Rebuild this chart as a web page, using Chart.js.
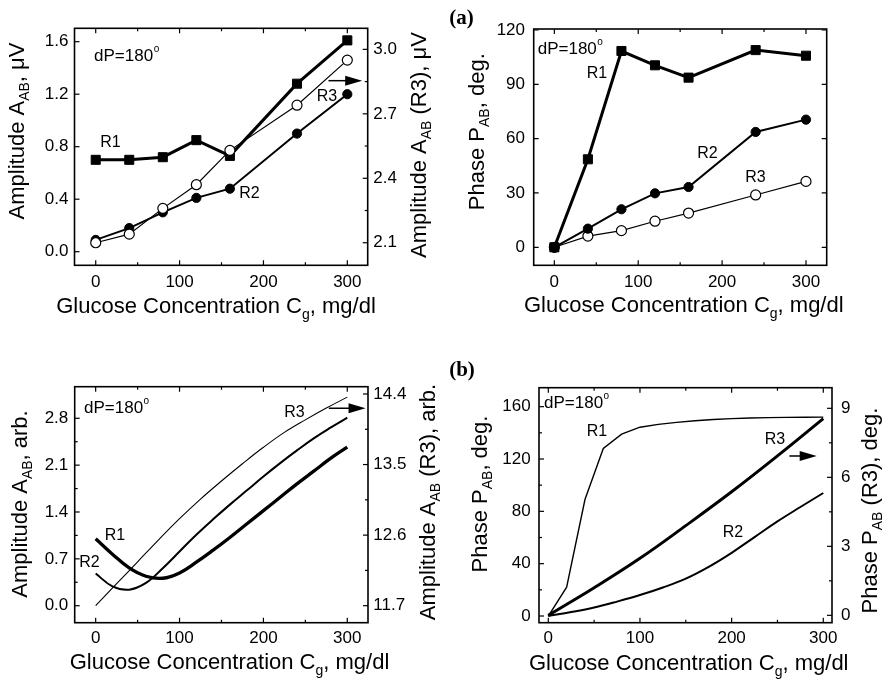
<!DOCTYPE html>
<html><head><meta charset="utf-8">
<script src="https://cdn.jsdelivr.net/npm/chart.js@4"></script>
<style>
body{margin:0;background:#fff;width:891px;height:684px;position:relative;overflow:hidden}
canvas{position:absolute}
</style></head>
<body>
<canvas id="c1" width="445" height="342" style="left:0;top:0"></canvas>
<canvas id="c2" width="446" height="342" style="left:445px;top:0"></canvas>
<canvas id="c3" width="445" height="342" style="left:0;top:342px"></canvas>
<canvas id="c4" width="446" height="342" style="left:445px;top:342px"></canvas>
<script>
// ---------- data: panel (a) ----------
const xA = [0, 40, 80, 120, 160, 240, 300];
const ampR1 = [0.70, 0.70, 0.72, 0.85, 0.73, 1.28, 1.61];
const ampR2 = [0.09, 0.18, 0.30, 0.41, 0.48, 0.90, 1.20];
const ampR3 = [2.10, 2.14, 2.26, 2.37, 2.53, 2.74, 2.95];   // right axis
const phR1 = [0, 48.6, 108.4, 100.5, 93.7, 108.9, 105.8];
const phR2 = [0, 10.3, 21.0, 29.8, 33.3, 63.7, 70.5];
const phR3 = [0, 6.2, 9.2, 14.4, 18.9, 28.9, 36.4];

// ---------- data: panel (b) ----------
const xB1 = [0, 20, 40, 60, 80, 100, 120, 140, 160, 180, 200, 220, 240, 260, 280, 300];
const ampbR1 = [1.00, 0.77, 0.565, 0.44, 0.41, 0.49, 0.65, 0.83, 1.02, 1.22, 1.42, 1.62, 1.82, 2.01, 2.20, 2.37];
const ampbR2 = [0.48, 0.29, 0.24, 0.34, 0.56, 0.81, 1.06, 1.29, 1.51, 1.72, 1.93, 2.13, 2.32, 2.50, 2.66, 2.81];
const xB2 = [0, 25, 50, 75, 100, 125, 150, 175, 200, 225, 250, 275, 300];
const ampbR3 = [11.70, 11.98, 12.26, 12.54, 12.81, 13.06, 13.29, 13.51, 13.72, 13.91, 14.07, 14.22, 14.36]; // right axis

const xP1 = [0, 20, 40, 60, 80, 100, 120, 140, 160, 180, 200, 220, 240, 260, 280, 300];
const phbR1 = [0, 22, 89, 128, 139, 144.3, 146.5, 148, 149.2, 150.2, 150.9, 151.3, 151.6, 151.8, 151.9, 152];
const xP2 = [0, 25, 50, 75, 100, 125, 150, 175, 200, 225, 250, 275, 300];
const phbR2 = [0, 3, 6.5, 11, 16, 21.8, 28.6, 37.6, 48.3, 60.3, 72.3, 83.3, 94];
const xP3 = [0, 50, 100, 150, 200, 250, 300];
const phbR3 = [0, 1.2, 2.48, 3.9, 5.37, 6.93, 8.55]; // right axis

// ---------- tick labels ----------
const xTicks = [0, 100, 200, 300];
const xMinor = [50, 150, 250];
const ampTicksL = [0, 0.4, 0.8, 1.2, 1.6];
const ampTicksR = [2.1, 2.4, 2.7, 3.0];
const phTicks = [0, 30, 60, 90, 120];
const ampbTicksL = [0, 0.7, 1.4, 2.1, 2.8];
const ampbTicksR = [11.7, 12.6, 13.5, 14.4];
const phbTicksL = [0, 40, 80, 120, 160];
const phbTicksR = [0, 3, 6, 9];

const FONT = '"Liberation Sans", Arial, Helvetica, sans-serif';
const pts = (xs, ys) => xs.map((x, i) => ({x: x, y: ys[i]}));
const mids = arr => arr.slice(0, -1).map((v, i) => (v + arr[i + 1]) / 2);

function axisCfg(axis, position, a) {
  return {
    type: 'linear', position: position, min: a.min, max: a.max, bounds: 'data',
    afterBuildTicks: s => { s.ticks = a.ticks.map(v => ({value: v})); },
    afterFit: s => { if (axis === 'x') s.height = a.size; else s.width = a.size; },
    grid: {display: false, drawTicks: false},
    border: {display: false},
    ticks: {autoSkip: false, maxRotation: 0, minRotation: 0, padding: a.pad, color: '#000',
      font: {family: FONT, size: 17}, callback: v => a.fmt ? a.fmt(v) : String(v)}
  };
}

function rich(c, parts, x, y, rot) {
  c.save(); c.translate(x, y); c.rotate(rot || 0);
  c.textBaseline = 'alphabetic'; c.textAlign = 'left'; c.fillStyle = '#000';
  let w = 0;
  const fnt = p => (p.b ? 'bold ' : '') + (p.s || 22) + 'px ' + (p.f || FONT);
  const ms = parts.map(p => { c.font = fnt(p); const m = c.measureText(p.t).width; w += m; return m; });
  let xx = -w / 2;
  parts.forEach((p, i) => { c.font = fnt(p); c.fillText(p.t, xx, p.dy || 0); xx += ms[i]; });
  c.restore();
}
const titleAmp = u => [{t: 'Amplitude A'}, {t: 'AB', s: 14, dy: 5}, {t: u}];
const titlePh = u => [{t: 'Phase P'}, {t: 'AB', s: 14, dy: 5}, {t: u}];
const titleX = [{t: 'Glucose Concentration C'}, {t: 'g', s: 14, dy: 6}, {t: ', mg/dl'}];

function decor(o) {
  return {
    id: 'decor',
    afterDraw(chart) {
      const c = chart.ctx, a = chart.chartArea, sx = chart.scales.x, sy = chart.scales.y, sy2 = chart.scales.y2;
      c.save();
      c.strokeStyle = '#000'; c.fillStyle = '#000';
      c.lineWidth = 1.2;
      const hx = (vals, len) => vals.forEach(v => {
        const p = sx.getPixelForValue(v);
        c.beginPath(); c.moveTo(p, a.bottom); c.lineTo(p, a.bottom - len);
        c.moveTo(p, a.top); c.lineTo(p, a.top + len); c.stroke();
      });
      const vy = (scale, vals, len, left, right) => vals.forEach(v => {
        const p = scale.getPixelForValue(v);
        c.beginPath();
        if (left) { c.moveTo(a.left, p); c.lineTo(a.left + len, p); }
        if (right) { c.moveTo(a.right, p); c.lineTo(a.right - len, p); }
        c.stroke();
      });
      hx(o.x.ticks, 5); if (o.x.minor) hx(o.x.minor, 3);
      vy(sy, o.yl.ticks, 5, true, !sy2); if (o.yl.minor) vy(sy, o.yl.minor, 3, true, !sy2);
      if (sy2) { vy(sy2, o.yr.ticks, 5, false, true); if (o.yr.minor) vy(sy2, o.yr.minor, 3, false, true); }
      c.lineWidth = 1.6;
      c.strokeRect(a.left, a.top, a.right - a.left, a.bottom - a.top);
      // series labels
      c.font = '16px ' + FONT; c.textAlign = 'center'; c.textBaseline = 'middle';
      o.labels.forEach(l => c.fillText(l.t, sx.getPixelForValue(l.x), sy.getPixelForValue(l.y)));
      // dP label
      const dx = sx.getPixelForValue(o.dp.x), dy = sy.getPixelForValue(o.dp.y);
      c.textAlign = 'left'; c.textBaseline = 'alphabetic';
      c.font = '17px ' + FONT; c.fillText('dP=180', dx, dy);
      const w = c.measureText('dP=180').width;
      c.font = '10px ' + FONT; c.fillText('o', dx + w + 0.5, dy - 9);
      // arrow
      if (o.arrow) {
        const x1 = sx.getPixelForValue(o.arrow.x1), x2 = sx.getPixelForValue(o.arrow.x2), ay = sy.getPixelForValue(o.arrow.y);
        c.lineWidth = 1.5;
        c.beginPath(); c.moveTo(x1, ay); c.lineTo(x2 - 10, ay); c.stroke();
        c.beginPath(); c.moveTo(x2, ay); c.lineTo(x2 - 17, ay - 5); c.lineTo(x2 - 17, ay + 5); c.closePath(); c.fill();
      }
      // titles (page coordinates)
      const ox = o.off[0], oy = o.off[1];
      o.titles.forEach(t => rich(c, t.parts, t.x - ox, t.y - oy, t.rot));
      c.restore();
    }
  };
}

function panel(id, o) {
  const scales = {x: axisCfg('x', 'bottom', o.x), y: axisCfg('y', 'left', o.yl)};
  if (o.yr) scales.y2 = axisCfg('y', 'right', o.yr);
  new Chart(document.getElementById(id).getContext('2d'), {
    type: 'line',
    data: {datasets: o.datasets},
    options: {responsive: false, animation: false, events: [],
      layout: {padding: o.pad},
      plugins: {legend: {display: false}, tooltip: {enabled: false}},
      scales: scales},
    plugins: [decor(o)]
  });
}

const R90 = -Math.PI / 2;
const f1 = v => v.toFixed(1);

// ----- panel (a) left : amplitude -----
panel('c1', {
  off: [0, 0],
  pad: {top: 28.3, left: 0, right: 0, bottom: 0},
  x: {min: -25.3, max: 324.3, ticks: xTicks, minor: xMinor, size: 76.7, pad: 7},
  yl: {min: -0.1036, max: 1.702, ticks: ampTicksL, size: 74.5, pad: 6, fmt: f1},
  yr: {min: 1.995, max: 3.098, ticks: ampTicksR, minor: mids(ampTicksR), size: 77.3, pad: 5.6, fmt: f1},
  datasets: [
    {data: pts(xA, ampR3), yAxisID: 'y2', borderColor: '#000', borderWidth: 1.2, pointStyle: 'circle', pointRadius: 5, pointBackgroundColor: '#fff', pointBorderColor: '#000', pointBorderWidth: 1.2, tension: 0},
    {data: pts(xA, ampR1), yAxisID: 'y', borderColor: '#000', borderWidth: 3, pointStyle: 'rect', pointRadius: 6.4, pointBackgroundColor: '#000', pointBorderColor: '#000', pointBorderWidth: 1, tension: 0},
    {data: pts(xA, ampR2), yAxisID: 'y', borderColor: '#000', borderWidth: 2, pointStyle: 'circle', pointRadius: 4.6, pointBackgroundColor: '#000', pointBorderColor: '#000', pointBorderWidth: 1, tension: 0}
  ],
  labels: [{t: 'R1', x: 17.6, y: 0.828}, {t: 'R2', x: 183.3, y: 0.443}, {t: 'R3', x: 275.8, y: 1.179}],
  dp: {x: -2, y: 1.453},
  arrow: {x1: 277.5, x2: 317.7, y: 1.303},
  titles: [
    {parts: titleX, x: 216, y: 313, rot: 0},
    {parts: titleAmp(', \u03bcV'), x: 24, y: 131, rot: R90},
    {parts: titleAmp(' (R3), \u03bcV'), x: 426, y: 145, rot: R90}
  ]
});

// ----- panel (a) right : phase -----
panel('c2', {
  off: [445, 0],
  pad: {top: 29, left: 0, right: 64.3, bottom: 0},
  x: {min: -24.6, max: 324.7, ticks: xTicks, minor: xMinor, size: 76.7, pad: 6.5},
  yl: {min: -9.94, max: 120.55, ticks: phTicks, size: 88.7, pad: 8.7},
  datasets: [
    {data: pts(xA, phR1), borderColor: '#000', borderWidth: 3, pointStyle: 'rect', pointRadius: 6.4, pointBackgroundColor: '#000', pointBorderColor: '#000', pointBorderWidth: 1, tension: 0},
    {data: pts(xA, phR2), borderColor: '#000', borderWidth: 2, pointStyle: 'circle', pointRadius: 4.6, pointBackgroundColor: '#000', pointBorderColor: '#000', pointBorderWidth: 1, tension: 0},
    {data: pts(xA, phR3), borderColor: '#000', borderWidth: 1.2, pointStyle: 'circle', pointRadius: 5, pointBackgroundColor: '#fff', pointBorderColor: '#000', pointBorderWidth: 1.2, tension: 0}
  ],
  labels: [{t: 'R1', x: 50.9, y: 96}, {t: 'R2', x: 182.6, y: 51.5}, {t: 'R3', x: 239.8, y: 38.5}],
  dp: {x: -19.8, y: 106.6},
  titles: [
    {parts: titleX, x: 683.8, y: 312, rot: 0},
    {parts: titlePh(', deg.'), x: 484, y: 131.7, rot: R90},
    {parts: [{t: '(a)', b: true, s: 21, f: '"Liberation Serif", "Times New Roman", serif'}], x: 461.5, y: 24, rot: 0}
  ]
});

// ----- panel (b) left : amplitude -----
panel('c3', {
  off: [0, 342],
  pad: {top: 44.7, left: 0, right: 0, bottom: 0},
  x: {min: -25.0, max: 324.7, ticks: xTicks, minor: xMinor, size: 61.3, pad: 5.6},
  yl: {min: -0.254, max: 3.272, ticks: ampbTicksL, minor: mids(ampbTicksL), size: 74.7, pad: 6.4, fmt: f1},
  yr: {min: 11.483, max: 14.493, ticks: ampbTicksR, minor: mids(ampbTicksR), size: 77, pad: 5.3, fmt: f1},
  datasets: [
    {data: pts(xB2, ampbR3), yAxisID: 'y2', borderColor: '#000', borderWidth: 1.1, pointRadius: 0, tension: 0.4},
    {data: pts(xB1, ampbR1), yAxisID: 'y', borderColor: '#000', borderWidth: 3.3, pointRadius: 0, tension: 0.4},
    {data: pts(xB1, ampbR2), yAxisID: 'y', borderColor: '#000', borderWidth: 2, pointRadius: 0, tension: 0.4}
  ],
  labels: [{t: 'R1', x: 23, y: 1.04}, {t: 'R2', x: -7.4, y: 0.645}, {t: 'R3', x: 237, y: 2.88}],
  dp: {x: -13.9, y: 2.884},
  arrow: {x1: 278, x2: 321.8, y: 2.95},
  titles: [
    {parts: titleX, x: 229.5, y: 669, rot: 0},
    {parts: titleAmp(', arb.'), x: 26.5, y: 504, rot: R90},
    {parts: titleAmp(' (R3), arb.'), x: 435, y: 502, rot: R90}
  ]
});

// ----- panel (b) right : phase -----
panel('c4', {
  off: [445, 342],
  pad: {top: 45.7, left: 0, right: 0, bottom: 0},
  x: {min: -10.15, max: 309.5, ticks: xTicks, minor: xMinor, size: 61.3, pad: 5.6},
  yl: {min: -5.12, max: 174.5, ticks: phbTicksL, minor: mids(phbTicksL), size: 94, pad: 8.3},
  yr: {min: -0.32, max: 9.896, ticks: phbTicksR, minor: mids(phbTicksR), size: 59, pad: 9},
  datasets: [
    {data: pts(xP3, phbR3), yAxisID: 'y2', borderColor: '#000', borderWidth: 3, pointRadius: 0, tension: 0.4},
    {data: pts(xP1, phbR1), yAxisID: 'y', borderColor: '#000', borderWidth: 1.4, pointRadius: 0, tension: 0},
    {data: pts(xP2, phbR2), yAxisID: 'y', borderColor: '#000', borderWidth: 2, pointRadius: 0, tension: 0.4}
  ],
  labels: [{t: 'R1', x: 53, y: 140.7}, {t: 'R2', x: 201.5, y: 63.5}, {t: 'R3', x: 247.3, y: 134.6}],
  dp: {x: -4.7, y: 158.8},
  arrow: {x1: 263, x2: 292.8, y: 122.3},
  titles: [
    {parts: titleX, x: 688.7, y: 670, rot: 0},
    {parts: titlePh(', deg.'), x: 487, y: 494, rot: R90},
    {parts: titlePh(' (R3), deg.'), x: 876.5, y: 510.5, rot: R90},
    {parts: [{t: '(b)', b: true, s: 21, f: '"Liberation Serif", "Times New Roman", serif'}], x: 462, y: 376, rot: 0}
  ]
});
</script>
</body></html>
